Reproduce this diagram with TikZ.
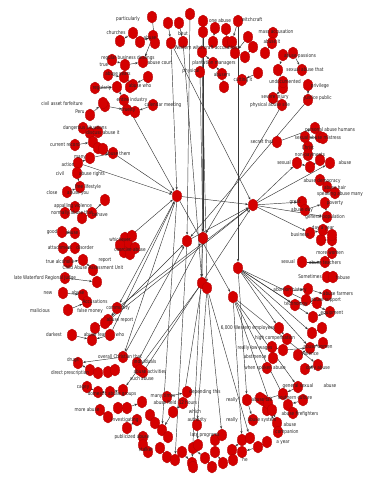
\documentclass[tikz,border=0pt]{standalone}
\usepackage{fontspec}
\newfontfamily\lblfont{DejaVu Sans}[FakeStretch=0.8]
\usetikzlibrary{shapes.geometric,arrows.meta}
\definecolor{nodered}{RGB}{212,0,0}
\definecolor{noderim}{RGB}{175,0,0}
\pgfdeclarelayer{bg}
\pgfsetlayers{bg,main}
\begin{document}
\begin{tikzpicture}[x=1pt,y=-1pt,
  dot/.style={ellipse,fill=nodered,draw=noderim,line width=0.3pt,minimum width=9.5pt,minimum height=12pt,inner sep=0pt},
  lbl/.style={font=\lblfont\fontsize{5.2}{6}\selectfont,text=black!85,inner sep=0pt},
  edge/.style={draw=black!78,line width=0.45pt,-{Stealth[length=3pt,width=2.2pt]}}]
\useasboundingbox (0,0) rectangle (383,480);
% nodes
\foreach \i/\px/\py in {
 1/152/17, 2/168/23, 3/179/23, 4/190/14, 5/203/21, 6/203/32, 7/215/28, 8/226/29, 9/238/21,
 10/133/33, 11/120/41, 12/140/42, 13/153/36, 14/155/43, 15/171/43, 16/183/42, 17/213/42, 18/227/42,
 19/232/42, 20/235/53, 21/248/37, 22/253/47, 23/273/33, 24/272/43, 25/265/53, 26/245/57, 27/258/73,
 28/242/80, 29/224/87, 30/222/74, 31/213/63, 32/200/72, 33/283/55, 34/293/53, 35/278/70, 36/283/88,
 37/273/98, 38/282/105, 39/112/60, 40/125/65, 41/143/62, 42/108/75, 43/124/77, 44/133/85, 45/148/77,
 46/117/87, 47/124/100, 48/105/106, 49/127/110, 50/135/112, 51/153/105, 52/302/70, 53/283/82, 54/308/85,
 55/308/100, 56/202/52, 57/95/88, 59/130/87, 60/103/103, 62/90/115, 63/83/128, 64/90/133, 65/98/132,
 66/75/145, 67/93/142, 68/98/148, 69/103/149, 70/113/153, 71/90/158, 72/78/163, 73/77/173, 74/80/187,
 75/67/192, 76/105/200, 77/75/207, 78/65/213, 79/82/218, 80/92/213, 81/62/232, 82/75/233, 83/63/248,
 84/75/248, 85/83/260, 86/68/262, 87/93/270, 88/65/278, 89/97/282, 90/63/293, 91/83/295, 92/87/302,
 93/68/310, 94/117/308, 95/108/320, 96/105/323, 97/95/328, 98/72/335, 99/92/340, 100/110/335,
 101/123/357, 102/78/363, 103/90/370, 104/137/363, 105/143/372,
 106/125/238, 107/132/236, 108/128/245, 109/135/248, 110/124/252, 111/130/254, 112/120/245,
 113/98/373, 114/108/372, 115/115/370, 116/140/370, 117/87/387, 118/98/392, 119/110/392, 120/123/390,
 121/100/410, 122/108/417, 123/118/408, 124/127/408, 125/142/402, 126/137/420, 127/127/428, 128/150/415,
 129/155/423, 130/143/437, 131/162/430, 132/168/437, 133/143/445, 134/148/452, 135/160/448, 136/167/457,
 137/175/460, 138/167/397, 139/187/392, 140/183/403, 141/173/412, 142/197/425, 143/182/452, 144/192/463,
 145/193/448, 146/205/458, 147/212/467, 148/215/440, 149/222/435, 150/223/463, 151/232/450, 152/242/440,
 153/247/400, 154/253/420, 155/263/400, 156/267/410, 157/277/423, 158/278/432, 159/267/442, 160/258/447,
 161/250/438, 162/242/452, 163/198/445,
 165/321/240, 166/332/240, 167/332/253, 168/325/262, 169/302/262, 170/327/277, 171/333/277, 172/288/291,
 173/308/289, 174/327/295, 175/306/300, 176/317/303, 177/295/305, 178/330/312, 179/313/317, 180/322/328,
 181/312/333, 182/279/328, 183/287/339, 184/272/347, 185/283/350, 186/310/348, 187/323/343, 188/298/355,
 189/273/358, 190/318/365, 191/267/368, 192/305/369, 193/298/387, 194/283/394, 195/303/400, 196/260/398,
 197/268/403, 198/272/410, 199/288/405,
 201/315/128, 202/320/137, 203/305/137, 204/323/138, 205/308/147, 206/308/155, 207/297/163, 208/310/167,
 209/320/160, 210/330/163, 211/320/180, 212/327/187, 213/335/193, 214/302/202, 215/305/210, 216/325/203,
 217/327/217, 218/310/233, 219/323/230, 220/332/235, 222/277/142, 223/293/413, 224/193/467, 225/233/460,
 226/215/452,
 301/177/196, 302/253/205, 303/187/241, 304/203/238, 305/238/268, 306/202/283, 307/207/288, 308/233/297}
  \node[dot] (n\i) at (\px,\py) {};
% connectors
\begin{pgfonlayer}{bg}
\foreach \a/\b in {
 10/11, 12/13, 1/14, 2/15, 3/16, 13/41, 7/17, 8/18, 9/19, 21/20, 22/26, 23/24, 24/25, 30/31, 27/28,
 29/30, 33/35, 34/52, 35/53, 54/55, 36/37, 37/38, 39/40, 40/41, 42/43, 43/44, 45/44, 46/47, 48/49,
 49/50, 51/50, 57/46, 59/44, 56/31,
 62/60, 63/64, 64/65, 66/67, 67/68, 68/69, 69/70, 71/70, 72/71, 73/74, 75/74, 77/78, 79/80, 80/76,
 81/82, 83/84, 86/85, 85/87, 88/89, 87/89, 90/91, 91/92, 93/92, 94/95, 97/96, 98/99, 99/97, 100/99,
 106/107, 108/109, 110/111, 112/108,
 101/102, 102/103, 103/113, 114/115, 116/105, 104/116, 117/118, 118/119, 119/120, 121/122, 123/124,
 124/125, 126/127, 128/129, 129/131, 130/133, 133/134, 135/136, 136/137, 138/139, 140/141, 141/131,
 142/163, 143/144, 145/146, 146/147, 148/149, 150/226, 151/152, 152/161, 153/154, 155/156, 156/157,
 157/158, 159/160, 160/162, 225/151, 224/144,
 165/166, 166/167, 167/168, 169/168, 170/171, 172/173, 173/174, 175/176, 177/175, 178/179, 180/181,
 182/183, 184/185, 185/186, 187/186, 188/186, 189/191, 190/192, 193/194, 195/199, 196/197, 197/198,
 199/223, 194/155,
 201/202, 203/204, 205/206, 207/208, 208/209, 209/210, 211/212, 212/213, 214/215, 215/216, 216/217,
 218/219, 219/220, 222/201,
 70/301, 72/301, 47/301, 15/301, 301/302, 301/94, 301/101, 301/308, 112/301, 100/301, 301/131,
 302/214, 302/207, 302/210, 302/217, 94/302, 302/218, 96/302, 105/302, 15/302,
 4/303, 55/303, 101/303, 95/303, 303/137, 303/302,
 6/304, 32/304, 38/304, 104/304, 304/144,
 305/182, 305/177, 305/179, 305/181, 305/186, 305/178, 9/305, 305/153,
 5/306, 306/120, 306/140, 307/142, 307/149, 307/161, 16/306, 56/307,
 308/190, 308/193, 308/199, 308/157, 308/152}
  \draw[edge] (n\a) -- (n\b);
\end{pgfonlayer}
% labels
\foreach \px/\py/\t [count=\k] in {
 128/19/particularly, 220/21/{one abuse}, 252/20/witchcraft, 116/33/churches, 150/38/abuse, 183/34/bhut,
 207/48/{Western witchcraft accusations}, 214/63/{plantation managers}, 191/71/physical, 222/75/abusers,
 243/80/{cutting it}, 276/32/{mass accusation}, 272/42/{abuse it}, 300/56/{abuse passions},
 128/58/{regular business dealings}, 104/65/true, 160/63/{abuse court}, 118/74/{abuse years},
 140/86/{abuse who}, 102/88/regularly, 62/104/{civil asset forfeiture}, 132/100/{entire industry},
 128/110/cruelty, 80/112/Peru, 163/105/{calendar meeting}, 305/70/{sexual abuse that},
 285/82/undocumented, 320/86/privilege, 275/97/{severe injury}, 270/105/{physical abuse site},
 318/98/{justice public},
 330/130/{personal abuse humans}, 318/138/{sexual abuse mistress}, 262/142/{secret that}, 308/148/Christ,
 310/155/{non-payments}, 284/163/sexual, 345/163/abuse, 322/181/{abuse democracy}, 335/188/{abuse hair},
 340/194/{speaking abuse many}, 295/202/great, 335/203/poverty, 302/210/{abuse day},
 325/217/{general population}, 323/228/{day a year}, 300/235/business, 330/253/{more women},
 288/262/sexual, 325/263/{abuse teachers}, 310/277/Sometimes, 343/278/fabuse, 338/294/{abuse farmers},
 290/290/{abortion history}, 296/304/technology, 326/300/{abuse support}, 332/313/equipment,
 248/328/{6,000 Western employees}, 275/338/{high compensation}, 255/348/{really low wages},
 318/347/{abuse women}, 255/357/abstinence, 310/354/violence, 265/368/{when spoken abuse},
 318/368/{daily abuse}, 298/386/{general sexual}, 330/386/abuse, 295/398/{southern culture},
 232/400/really, 262/400/{abuse tax}, 300/414/{abuse firefighters}, 232/420/really, 262/420/{abuse system},
 290/425/abuse, 287/432/companion, 283/443/{a year}, 245/460/he,
 205/392/{depending this}, 188/403/{12 hours}, 195/412/which, 197/420/authority, 205/435/{late programs},
 132/437/{publicized abuse}, 163/396/{many times}, 165/403/{abuse field}, 87/410/{more abuse},
 125/420/investigating, 146/450/stalker,
 54/335/darkest, 95/335/{abuse fear}, 120/335/who, 120/357/{overall Christian that}, 145/362/individuals,
 150/372/{abuse activities}, 142/379/{such abuse}, 70/373/{direct prescription}, 73/360/drugs,
 83/388/cagey, 112/394/{domestic abuse groups},
 85/128/{dangerous situations}, 103/133/{discuss abuse it}, 65/145/{current record}, 118/154/{abuse them},
 80/158/many, 68/165/action, 60/174/civil, 92/174/{abuse rights}, 88/187/{free lifestyle}, 52/193/close,
 78/193/{abuse you}, 73/206/{appalling violence}, 72/213/{normally abuse that}, 100/215/behave,
 52/232/good, 72/233/abuse, 60/248/attachment, 85/248/disorder, 60/262/{true alcoholic}, 105/260/report,
 93/268/{Child Abuse Assessment Unit}, 45/278/{late Waterford Regional Judge}, 48/293/new, 78/293/abuse,
 95/302/Accusations, 40/311/malicious, 90/311/{false money}, 118/308/community, 120/320/{abuse report},
 120/240/whichever, 130/250/{coercive abuse}}
  \node[lbl] (t\k) at (\px,\py) {\t};
\end{tikzpicture}
\end{document}
